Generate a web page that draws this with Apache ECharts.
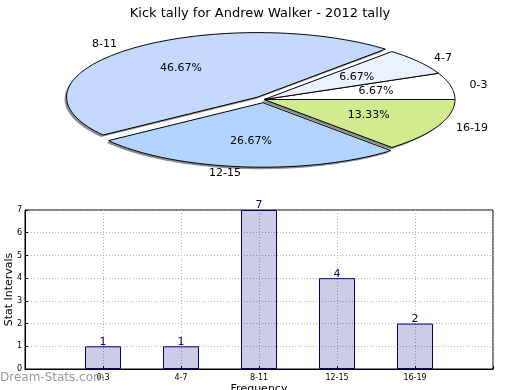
<!DOCTYPE html>
<html>
<head>
<meta charset="utf-8">
<script src="https://cdn.jsdelivr.net/npm/echarts@6/dist/echarts.min.js"></script>
<style>html,body{margin:0;padding:0;background:#fff}#c{width:520px;height:390px}</style>
</head>
<body>
<div id="c"></div>
<script>
var titleText = 'Kick tally for Andrew Walker - 2012 tally';
var categories = ['0-3', '4-7', '8-11', '12-15', '16-19'];
var values = [1, 1, 7, 4, 2];
var yTicks = [0, 1, 2, 3, 4, 5, 6, 7];
var sliceColors = ['#ffffff', '#eaf1ff', '#c5d8fe', '#b3d4fe', '#d0ec8e'];
var explode = [0, 0, 0.05, 0.05, 0];

var FONT = 'DejaVu Sans';
var total = values.reduce(function (a, b) { return a + b; }, 0);
var starts = [], acc = 0;
values.forEach(function (v) { starts.push(acc); acc += v; });

function sliceGeom(i) {
  var a0 = starts[i] / total * 2 * Math.PI;
  var a1 = (starts[i] + values[i]) / total * 2 * Math.PI;
  var mid = (a0 + a1) / 2;
  var ox = explode[i] * Math.cos(mid), oy = explode[i] * Math.sin(mid);
  return {a0: a0, a1: a1, mid: mid, ox: ox, oy: oy};
}
function slicePoints(api, g, dx, dy) {
  var pts = [];
  var c = api.coord([g.ox, g.oy]);
  pts.push([c[0] + dx, c[1] + dy]);
  var n = Math.max(2, Math.ceil((g.a1 - g.a0) / (Math.PI / 180)));
  for (var k = 0; k <= n; k++) {
    var a = g.a0 + (g.a1 - g.a0) * k / n;
    var p = api.coord([g.ox + Math.cos(a), g.oy + Math.sin(a)]);
    pts.push([p[0] + dx, p[1] + dy]);
  }
  return pts;
}

var pieData = values.map(function (v, i) { return [i, v]; });
var axisData = [''].concat(categories).concat(['']);
var barData = ['-'].concat(values).concat(['-']);

var chart = echarts.init(document.getElementById('c'), null, {renderer: 'canvas'});
chart.setOption({
  animation: false,
  backgroundColor: '#ffffff',
  textStyle: {fontFamily: FONT},
  title: {
    text: titleText, left: 'center', top: 2,
    textStyle: {fontFamily: FONT, fontSize: 13, fontWeight: 'normal', color: '#000'}
  },
  graphic: [{
    type: 'text', left: 0, top: 372, z: 10,
    style: {text: 'Dream-Stats.com', fontFamily: FONT, fontSize: 12, fill: '#9a9a9a'}
  }],
  grid: [
    {left: 25, top: 210, width: 468, height: 159, show: true, borderColor: '#000', borderWidth: 1,
     backgroundColor: 'transparent', containLabel: false, outerBoundsMode: 'none'},
    {left: 73, top: 35, width: 382, height: 129, show: false, containLabel: false, outerBoundsMode: 'none'}
  ],
  xAxis: [
    {
      type: 'category', gridIndex: 0, data: axisData, boundaryGap: false,
      name: 'Frequency', nameLocation: 'middle', nameGap: 15, nameMoveOverlap: false,
      nameTextStyle: {fontFamily: FONT, fontSize: 11, color: '#000'},
      axisLine: {show: true, lineStyle: {color: '#000', width: 1}},
      axisTick: {show: true, inside: true, length: 3, lineStyle: {color: '#000'}},
      axisLabel: {fontFamily: FONT, fontSize: 8, color: '#000', margin: 5, interval: 0},
      splitLine: {show: true, lineStyle: {color: '#b0b0b0', type: [1, 2], width: 1}}
    },
    {type: 'value', gridIndex: 1, min: -1, max: 1, show: false}
  ],
  yAxis: [
    {
      type: 'value', gridIndex: 0, min: yTicks[0], max: yTicks[yTicks.length - 1], interval: 1,
      name: 'Stat Intervals', nameLocation: 'middle', nameGap: 10, nameRotate: 90, nameMoveOverlap: false,
      nameTextStyle: {fontFamily: FONT, fontSize: 11, color: '#000'},
      axisLine: {show: true, lineStyle: {color: '#000', width: 1}},
      axisTick: {show: true, inside: true, length: 3, lineStyle: {color: '#000'}},
      axisLabel: {fontFamily: FONT, fontSize: 8, color: '#000', margin: 3},
      splitLine: {show: true, lineStyle: {color: '#b0b0b0', type: [1, 2], width: 1}}
    },
    {type: 'value', gridIndex: 1, min: -1, max: 1, show: false}
  ],
  series: [
    {
      type: 'bar', xAxisIndex: 0, yAxisIndex: 0, data: barData, barWidth: 36, z: 1,
      itemStyle: {color: 'rgba(0,0,128,0.2)', borderColor: '#000080', borderWidth: 1},
      label: {show: true, position: 'top', distance: -1, fontFamily: FONT, fontSize: 11, color: '#000080'}
    },
    {
      type: 'custom', xAxisIndex: 1, yAxisIndex: 1, data: pieData, z: 2, silent: true,
      renderItem: function (params, api) {
        var g = sliceGeom(params.dataIndex);
        return {
          type: 'polygon',
          shape: {points: slicePoints(api, g, -2, 2)},
          style: {fill: 'rgba(0,0,0,0.45)', stroke: null}
        };
      }
    },
    {
      type: 'custom', xAxisIndex: 1, yAxisIndex: 1, data: pieData, z: 3, silent: true,
      renderItem: function (params, api) {
        var i = params.dataIndex;
        var g = sliceGeom(i);
        var cm = Math.cos(g.mid), sm = Math.sin(g.mid);
        var lp = api.coord([g.ox + 1.1 * cm, g.oy + 1.1 * sm]);
        var pp = api.coord([g.ox + 0.6 * cm, g.oy + 0.6 * sm]);
        var pct = (values[i] / total * 100).toFixed(2) + '%';
        return {
          type: 'group',
          children: [
            {type: 'polygon', shape: {points: slicePoints(api, g, 0, 0)},
             style: {fill: sliceColors[i], stroke: '#000', lineWidth: 1}},
            {type: 'text', x: lp[0], y: lp[1],
             style: {text: categories[i], fontFamily: FONT, fontSize: 11, fill: '#000',
                     align: cm < 0 ? 'right' : 'left', verticalAlign: 'middle'}},
            {type: 'text', x: pp[0], y: pp[1],
             style: {text: pct, fontFamily: FONT, fontSize: 11, fill: '#000',
                     align: 'center', verticalAlign: 'middle'}}
          ]
        };
      }
    }
  ]
});
</script>
</body>
</html>
